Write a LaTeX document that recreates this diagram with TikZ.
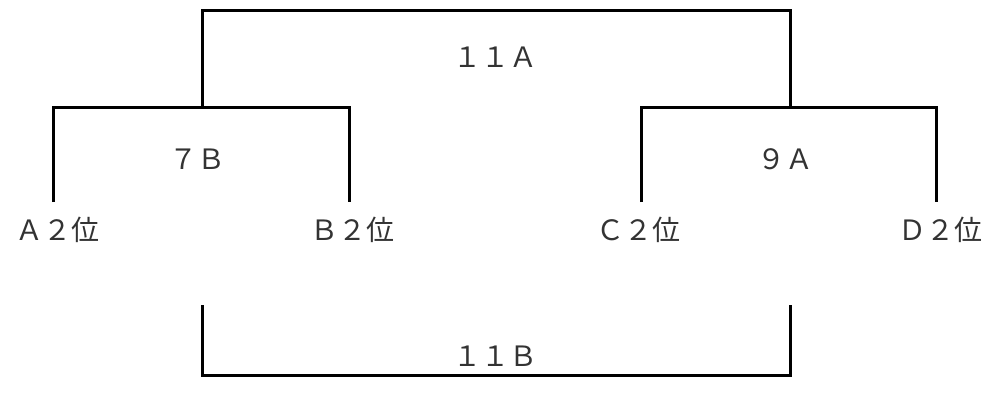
\documentclass[tikz,border=0pt]{standalone}
\usepackage{fontspec}
\setmainfont{Noto Sans CJK JP}
\begin{document}
\begin{tikzpicture}[x=1pt,y=-1pt,
  bk/.style={line width=3pt},
  lbl/.style={inner sep=0pt,font=\fontsize{28}{32}\selectfont,text=black!80}]
\useasboundingbox (0,0) rectangle (987,405);
\coordinate (tl) at (202,10);
\coordinate (tr) at (790,10);
\coordinate (ml) at (202,107);
\coordinate (mr) at (790,107);
\coordinate (la) at (53,107);
\coordinate (lb) at (349,107);
\coordinate (ra) at (641,107);
\coordinate (rb) at (936,107);
\coordinate (ad) at (53,202);
\coordinate (bd) at (349,202);
\coordinate (cd) at (641,202);
\coordinate (dd) at (936,202);
\coordinate (bl0) at (202,305);
\coordinate (br0) at (790,305);
\coordinate (bl1) at (202,375);
\coordinate (br1) at (790,375);
\draw[bk] (ml) -- (tl) -- (tr) -- (mr);
\draw[bk] (ad) -- (la) -- (lb) -- (bd);
\draw[bk] (cd) -- (ra) -- (rb) -- (dd);
\draw[bk] (bl0) -- (bl1) -- (br1) -- (br0);
\node[lbl] (t11a) at (495,57) {１１Ａ};
\node[lbl] (t7b) at (197,159) {７Ｂ};
\node[lbl] (t9a) at (785,159) {９Ａ};
\node[lbl] (a2) at (58,230) {Ａ２位};
\node[lbl] (b2) at (352,230) {Ｂ２位};
\node[lbl] (c2) at (638,230) {Ｃ２位};
\node[lbl] (d2) at (940,230) {Ｄ２位};
\node[lbl] (t11b) at (495,356) {１１Ｂ};
\end{tikzpicture}
\end{document}
